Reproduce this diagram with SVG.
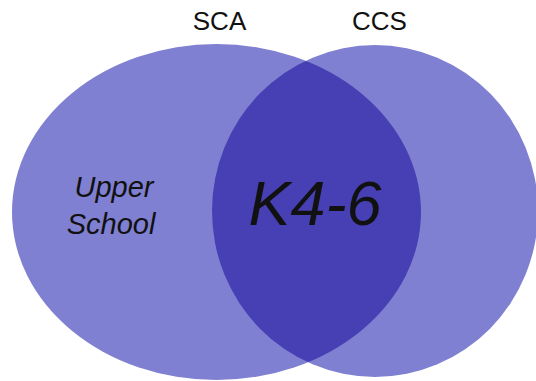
<svg xmlns="http://www.w3.org/2000/svg" width="536" height="381" viewBox="0 0 536 381">
<style>
.set{fill:#8080d2}
.lens{fill:#4640b4}
.lbl{font-family:"Liberation Sans",Arial,sans-serif;fill:#111;text-anchor:middle}
.it{font-style:italic}
</style>
<defs>
<clipPath id="clipL"><ellipse cx="216.5" cy="212" rx="204.5" ry="168"/></clipPath>
</defs>
<rect width="536" height="381" fill="#ffffff"/>
<g id="sca">
<ellipse class="set" cx="216.5" cy="212" rx="204.5" ry="168"/>
<text class="lbl" x="219.5" y="30" font-size="26">SCA</text>
</g>
<g id="ccs">
<ellipse class="set" cx="375" cy="211" rx="163" ry="166"/>
<text class="lbl" x="379.5" y="30" font-size="26">CCS</text>
</g>
<g id="overlap">
<ellipse class="lens" cx="375" cy="211" rx="163" ry="166" clip-path="url(#clipL)"/>
<text class="lbl it" x="315" y="225" font-size="63">K4-6</text>
</g>
<g id="upper-school">
<text class="lbl it" x="114" y="197" font-size="29">Upper</text>
<text class="lbl it" x="111" y="234" font-size="29">School</text>
</g>
<g id="connectors"></g>
</svg>
